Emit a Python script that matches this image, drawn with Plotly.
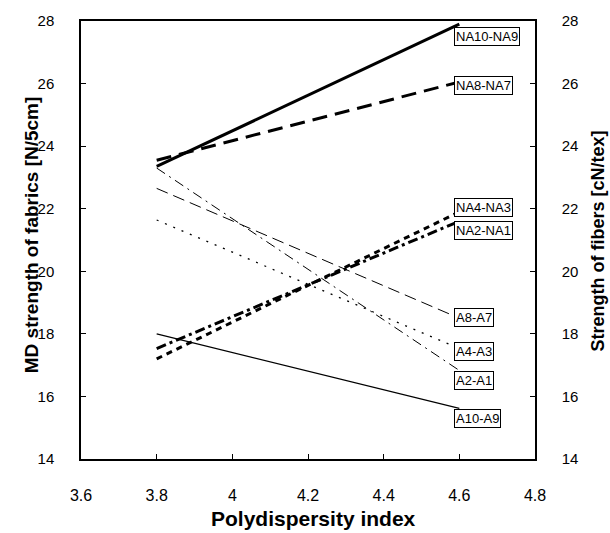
import plotly.graph_objects as go

pdi = [3.8, 4.6]
series_names = ["NA10-NA9", "NA8-NA7", "NA4-NA3", "NA2-NA1", "A8-A7", "A4-A3", "A2-A1", "A10-A9"]
series_values = {
    "NA10-NA9": [23.35, 27.9],
    "NA8-NA7": [23.55, 26.05],
    "NA4-NA3": [17.2, 21.9],
    "NA2-NA1": [17.53, 21.6],
    "A8-A7": [22.65, 18.5],
    "A4-A3": [21.64, 17.53],
    "A2-A1": [23.3, 16.83],
    "A10-A9": [18.0, 15.62],
}
label_y = {
    "NA10-NA9": 27.52, "NA8-NA7": 25.93, "NA4-NA3": 22.05, "NA2-NA1": 21.29,
    "A8-A7": 18.52, "A4-A3": 17.44, "A2-A1": 16.51, "A10-A9": 15.30,
}
styles = {
    "NA10-NA9": dict(width=3, dash="solid"),
    "NA8-NA7": dict(width=3, dash="15px,8px"),
    "NA4-NA3": dict(width=3, dash="6px,5px"),
    "NA2-NA1": dict(width=3, dash="10px,4px,3px,4px"),
    "A8-A7": dict(width=1, dash="12px,6px"),
    "A4-A3": dict(width=1.3, dash="2px,7px"),
    "A2-A1": dict(width=1, dash="10px,5px,2px,5px"),
    "A10-A9": dict(width=1.2, dash="solid"),
}

font = "Liberation Sans, Arial"

fig = go.Figure()
for name in series_names:
    fig.add_trace(go.Scatter(x=pdi, y=series_values[name], mode="lines", name=name,
                             line=dict(color="black", **styles[name]), showlegend=False))
# invisible trace for right axis
fig.add_trace(go.Scatter(x=[4.0], y=[20], yaxis="y2", mode="markers",
                         marker=dict(opacity=0), showlegend=False, hoverinfo="skip"))

for name in series_names:
    fig.add_annotation(x=4.6, y=label_y[name], text=name, showarrow=False, xanchor="left",
                       yanchor="middle", xshift=-5, bordercolor="black", borderwidth=1,
                       borderpad=1, bgcolor="white",
                       font=dict(family=font, size=13, color="black"))

# axis titles
fig.add_annotation(xref="paper", yref="paper", x=0.513, y=-0.136, text="<b>Polydispersity index</b>",
                   showarrow=False, xanchor="center", yanchor="middle",
                   font=dict(family=font, size=21, color="black"))
fig.add_annotation(xref="paper", yref="paper", x=-0.110, y=0.511, text="<b>MD strength of fabrics [N/5cm]</b>",
                   showarrow=False, xanchor="center", yanchor="middle", textangle=-90,
                   font=dict(family=font, size=19, color="black"))
fig.add_annotation(xref="paper", yref="paper", x=1.138, y=0.498, text="<b>Strength of fibers [cN/tex]</b>",
                   showarrow=False, xanchor="center", yanchor="middle", textangle=-90,
                   font=dict(family=font, size=18, color="black"))

fig.update_layout(
    width=610, height=533,
    margin=dict(l=81, r=75, t=19, b=74),
    plot_bgcolor="white", paper_bgcolor="white",
    font=dict(family=font, color="black", size=15),
    xaxis=dict(range=[3.6, 4.8], dtick=0.2, tick0=3.6, ticks="inside", ticklen=5,
               tickcolor="black", showline=True, linecolor="black", linewidth=1.5,
               mirror=True, showgrid=False, zeroline=False, ticklabelstandoff=21,
               tickfont=dict(size=16)),
    yaxis=dict(range=[14, 28], dtick=2, ticks="inside", ticklen=5, tickcolor="black",
               showline=True, linecolor="black", linewidth=1.5, showgrid=False, zeroline=False,
               ticklabelstandoff=22, tickfont=dict(size=15)),
    yaxis2=dict(range=[14, 28], dtick=2, overlaying="y", side="right", ticks="inside",
                ticklen=5, tickcolor="black", showline=True, linecolor="black", linewidth=1.5,
                showgrid=False, zeroline=False, ticklabelstandoff=22, tickfont=dict(size=15)),
)
fig.write_html("out.html")
